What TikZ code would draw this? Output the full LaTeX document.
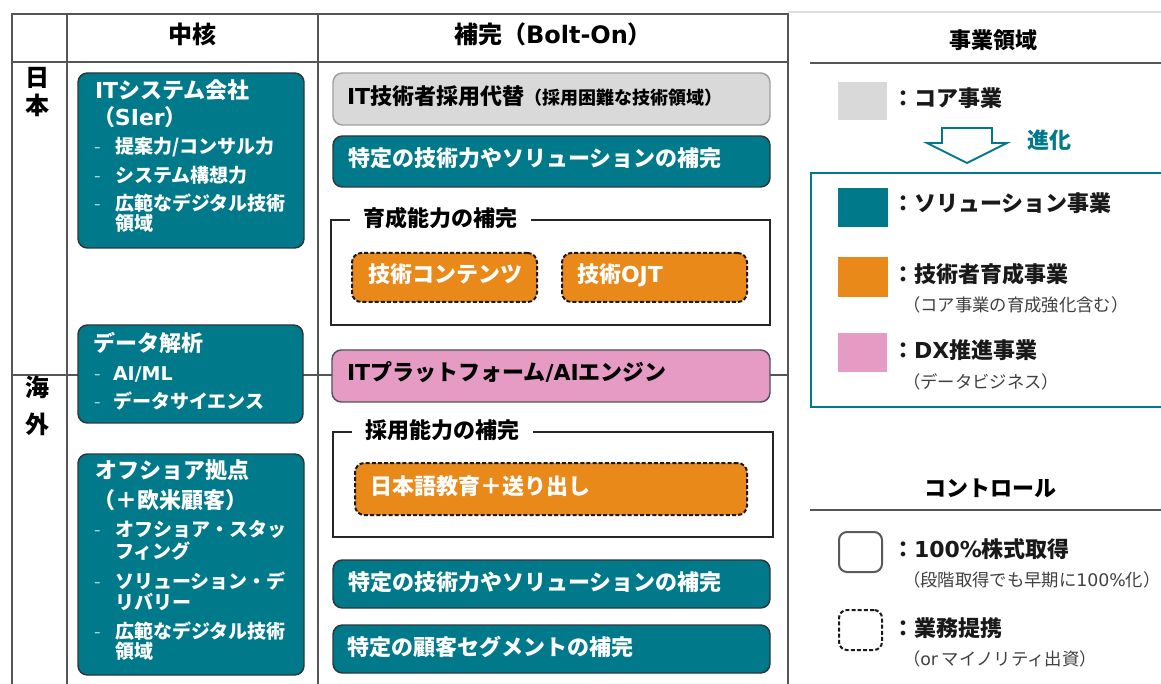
\documentclass[tikz,border=0pt]{standalone}
\usepackage{fontspec}
\setmainfont{Noto Sans CJK JP}
\newfontfamily\lat{DejaVu Sans}
\usetikzlibrary{fit}
\definecolor{teal1}{RGB}{0,121,138}
\definecolor{orng}{RGB}{233,137,25}
\definecolor{pnk}{RGB}{230,155,196}
\definecolor{lgray}{RGB}{217,217,217}
\definecolor{tline}{RGB}{85,85,85}
\definecolor{bdark}{RGB}{45,55,60}
\definecolor{subtxt}{RGB}{64,64,64}
\newcommand\szHead{\fontsize{18}{20}\selectfont}
\newcommand\szMain{\fontsize{16.5}{18}\selectfont}
\newcommand\szSub{\fontsize{14.25}{16}\selectfont}
\newcommand\szSmall{\fontsize{13}{15}\selectfont}
\newcommand\szGsub{\fontsize{13.5}{15}\selectfont}
\begin{document}
\begin{tikzpicture}[x=0.75pt,y=-0.75pt,
  every node/.style={inner sep=0pt, outer sep=0pt},
  tbl/.style={draw=tline, line width=1pt},
  rbox/.style={rounded corners=7pt, draw=bdark, line width=1.1pt, inner sep=0pt},
  tealbox/.style={rbox, fill=teal1},
  graybox/.style={rbox, fill=lgray, draw=gray!75},
  pinkbox/.style={rbox, fill=pnk, draw=bdark!85},
  orbox/.style={rbox, fill=orng, draw=black!90, line width=1.5pt, dash pattern=on 3pt off 1.6pt},
  grpbox/.style={draw=black!85, line width=1.2pt, inner sep=0pt},
  grptitle/.style={anchor=west, fill=white, inner xsep=10pt, inner ysep=2pt, text height=0.9em, text depth=0pt, font=\bfseries\szMain},
  hd/.style={anchor=center, text height=0.9em, text depth=0pt, font=\bfseries\szHead},
  wt/.style={anchor=west, text height=0.9em, text depth=0pt, text=white, font=\bfseries\szMain},
  ws/.style={anchor=west, text height=0.9em, text depth=0pt, text=white, font=\bfseries\szSub},
  dsh/.style={anchor=center, text height=0.9em, text depth=0pt, text=white!70!teal1, font=\szSub},
  bt/.style={anchor=west, text height=0.9em, text depth=0pt, text=black, font=\bfseries\szMain},
  lt/.style={anchor=west, text height=0.9em, text depth=0pt, text=black!90, font=\bfseries\szMain},
  ls/.style={anchor=west, text height=0.9em, text depth=0pt, text=subtxt, font=\szSmall},
  lsq/.style={inner sep=0pt},
  ctl/.style={rounded corners=6pt, draw=black!65, line width=1.5pt, inner sep=0pt}
]
\useasboundingbox (0,0) rectangle (1161,684);
\fill[white] (0,0) rectangle (1161,684);

% table
\draw[tbl] (12,684) -- (12,14) -- (788,14) -- (788,684);
\draw[tbl] (67,14) -- (67,684);
\draw[tbl] (318,14) -- (318,684);
\draw[tbl] (12,62) -- (788,62);
\draw[tbl] (12,375) -- (788,375);
\draw[gray!25, line width=0.8pt] (788,12) -- (1161,12);

% headers
\node[hd] (hcore) at (192,38) {中核};
\node[hd] (hbolt) at (553,38) {補完（{\lat Bolt-On}）};
\node[hd] (jp1) at (38,81) {日};
\node[hd] (jp2) at (38,109) {本};
\node[hd] (os1) at (38,391) {海};
\node[hd] (os2) at (38,427) {外};

% left column
\node[tealbox, fit={(78,73)(304,248)}] (sier) {};
\node[wt] (sier1) at (95,93) {{\lat IT}システム会社};
\node[wt] (sier2) at (93,120) {（{\lat SIer}）};
\node[dsh] (sd1) at (98,148) {-};
\node[ws] (sier3) at (115,148) {提案力/コンサル力};
\node[dsh] (sd2) at (98,177) {-};
\node[ws] (sier4) at (115,177) {システム構想力};
\node[dsh] (sd3) at (98,205) {-};
\node[ws] (sier5) at (115,205) {広範なデジタル技術};
\node[ws] (sier6) at (115,225) {領域};

\node[tealbox, fit={(78,325)(303,423)}] (data) {};
\node[wt] (data1) at (93,346) {データ解析};
\node[dsh] (dd1) at (98,375) {-};
\node[ws] (data2) at (113,375) {{\lat AI/ML}};
\node[dsh] (dd2) at (98,402) {-};
\node[ws] (data3) at (113,402) {データサイエンス};

\node[tealbox, fit={(78,454)(304,675)}] (off) {};
\node[wt] (off1) at (95,473) {オフショア拠点};
\node[wt] (off2) at (93,502) {（＋欧米顧客）};
\node[dsh] (od1) at (98,530) {-};
\node[ws] (off3) at (115,530) {オフショア・スタッ};
\node[ws] (off4) at (115,552) {フィング};
\node[dsh] (od2) at (98,582) {-};
\node[ws] (off5) at (115,582) {ソリューション・デ};
\node[ws] (off6) at (115,603) {リバリー};
\node[dsh] (od3) at (98,632) {-};
\node[ws] (off7) at (115,632) {広範なデジタル技術};
\node[ws] (off8) at (115,652) {領域};

% middle column
\node[graybox, fit={(333,73)(770,125)}] (core) {};
\node[bt] (coret) at (347,99) {{\lat IT}技術者採用代替{\szGsub（採用困難な技術領域）}};
\node[tealbox, fit={(333,136)(770,187)}] (sol1) {};
\node[wt] (sol1t) at (348,161) {特定の技術力やソリューションの補完};

\node[grpbox, fit={(331,220)(770,325)}] (grp1) {};
\node[grptitle] (grp1t) at (350,221) {育成能力の補完};
\node[orbox, fit={(352,253)(537,302)}] (cont) {};
\node[wt] (contt) at (368,277) {技術コンテンツ};
\node[orbox, fit={(562,253)(747,302)}] (ojt) {};
\node[wt] (ojtt) at (577,277) {技術{\lat OJT}};

\node[pinkbox, fit={(332,350)(770,402)}] (plat) {};
\node[bt] (platt) at (347,375) {{\lat IT}プラットフォーム{\lat /AI}エンジン};

\node[grpbox, fit={(333,432)(773,537)}] (grp2) {};
\node[grptitle] (grp2t) at (352,433) {採用能力の補完};
\node[orbox, fit={(355,463)(747,515)}] (jpn) {};
\node[wt] (jpnt) at (370,488) {日本語教育＋送り出し};

\node[tealbox, fit={(333,560)(770,608)}] (sol2) {};
\node[wt] (sol2t) at (348,584) {特定の技術力やソリューションの補完};
\node[tealbox, fit={(333,625)(770,673)}] (seg) {};
\node[wt] (segt) at (347,649) {特定の顧客セグメントの補完};

% legend: business domains
\node[hd, font=\bfseries\szMain] (lgt1) at (993,43) {事業領域};
\draw[tline, line width=1.3pt] (810,63) -- (1161,63);
\node[lsq, fill=lgray, fit={(838,82)(887,120)}] (sqg) {};
\node[lt] (sqgt) at (892,101) {：コア事業};
\draw[teal1, line width=1.4pt, line join=miter] (942,128) -- (992,128) -- (992,143) -- (1007,143) -- (967,163) -- (927,143) -- (942,143) -- cycle;
\node[anchor=west, text height=0.9em, text depth=0pt, text=teal1, font=\bfseries\szMain] (evo) at (1027,143) {進化};
\draw[teal1, line width=1.4pt] (1175,173) -- (811,173) -- (811,407) -- (1175,407);
\node[lsq, fill=teal1, fit={(838,188)(888,227)}] (sqt) {};
\node[lt] (sqtt) at (892,206) {：ソリューション事業};
\node[lsq, fill=orng, fit={(838,257)(888,297)}] (sqo) {};
\node[lt] (sqot) at (892,277) {：技術者育成事業};
\node[ls] (sqos) at (903,306) {（コア事業の育成強化含む）};
\node[lsq, fill=pnk, fit={(838,333)(887,372)}] (sqp) {};
\node[lt] (sqpt) at (892,353) {：{\lat DX}推進事業};
\node[ls] (sqps) at (903,383) {（データビジネス）};

% legend: control
\node[hd, font=\bfseries\szMain] (lgt2) at (990,490) {コントロール};
\draw[tline, line width=1.3pt] (810,510) -- (1161,510);
\node[ctl, fit={(839,532)(882,572)}] (cfull) {};
\node[lt] (cfullt) at (892,551) {：{\lat 100\%}株式取得};
\node[ls] (cfulls) at (903,580) {（段階取得でも早期に{\lat 100\%}化）};
\node[ctl, dash pattern=on 3pt off 1.6pt, draw=black!90, fit={(839,610)(882,650)}] (cpart) {};
\node[lt] (cpartt) at (892,630) {：業務提携};
\node[ls] (cparts) at (903,659) {（{\lat or} マイノリティ出資）};
\end{tikzpicture}
\end{document}
